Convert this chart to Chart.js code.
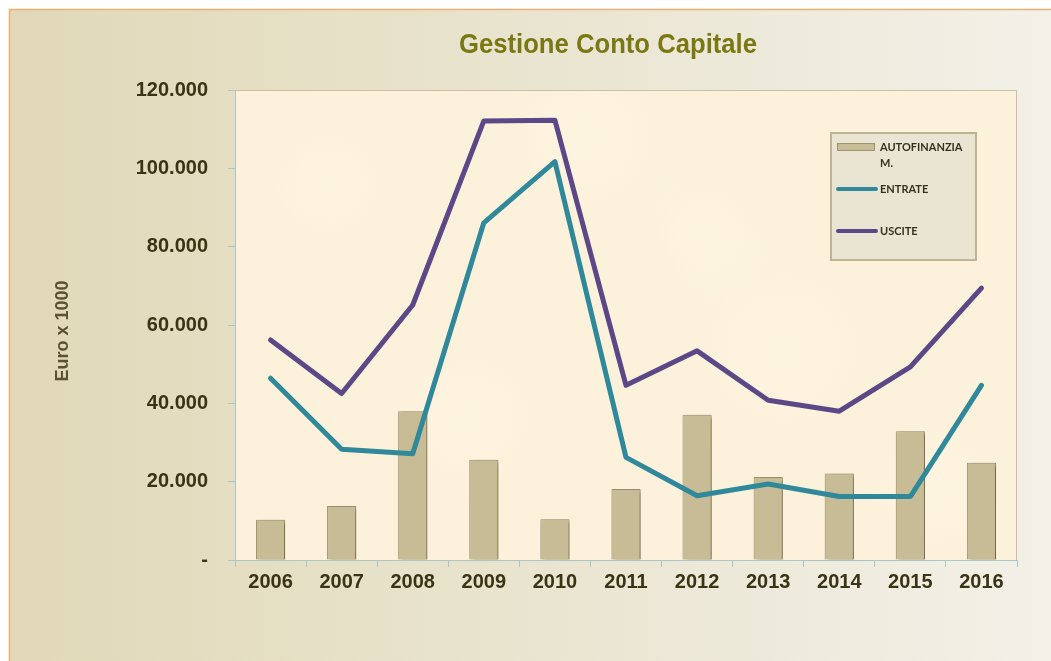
<!DOCTYPE html>
<html>
<head>
<meta charset="utf-8">
<script src="https://cdn.jsdelivr.net/npm/chart.js@4/dist/chart.umd.min.js"></script>
<style>
  html, body { margin: 0; padding: 0; background: #ffffff; }
  #wrap { position: relative; width: 1051px; height: 661px; }
  canvas { display: block; }
</style>
</head>
<body>
<div id="wrap"><canvas id="c" width="1051" height="661"></canvas></div>
<script>
// Anni di riferimento
const years = ['2006', '2007', '2008', '2009', '2010', '2011', '2012', '2013', '2014', '2015', '2016'];

// Valori in migliaia di euro
const autofinanziamento = [10300, 13800, 38000, 25600, 10400, 18100, 37100, 21200, 22100, 32900, 24800];
const entrate = [46400, 28300, 27100, 86100, 101700, 26200, 16400, 19400, 16200, 16200, 44600];
const uscite = [56200, 42500, 65100, 112100, 112300, 44600, 53400, 40800, 38000, 49300, 69400];

// Scala verticale
const yMin = 0;
const yMax = 120000;
const yStep = 20000;

const chartTitle = 'Gestione Conto Capitale';
const yTitle = 'Euro x 1000';

const TICK_COLOR = '#3a3414';

function formatEuro(v) {
  if (v === 0) return '-';
  return String(Math.round(v)).replace(/\B(?=(\d{3})+(?!\d))/g, '.');
}

// Sfondo della pagina, del pannello e dell'area del grafico
const backgroundPlugin = {
  id: 'sfondo',
  beforeDraw(chart) {
    const ctx = chart.ctx;
    const W = chart.width, H = chart.height;
    ctx.save();
    ctx.fillStyle = '#ffffff';
    ctx.fillRect(0, 0, W, H);
    const g = ctx.createLinearGradient(10, 0, W, 0);
    g.addColorStop(0, '#e0d8b8');
    g.addColorStop(0.3, '#e6e0c6');
    g.addColorStop(1, '#f3f0e8');
    ctx.fillStyle = g;
    ctx.fillRect(10, 9, W - 10, H - 9);
    ctx.strokeStyle = '#f0b070';
    ctx.lineWidth = 1.5;
    ctx.beginPath();
    ctx.moveTo(9.5, H);
    ctx.lineTo(9.5, 9.5);
    ctx.lineTo(W, 9.5);
    ctx.stroke();

    const a = chart.chartArea;
    ctx.fillStyle = '#fcf1da';
    ctx.fillRect(a.left, a.top, a.right - a.left, a.bottom - a.top);
    // leggera marezzatura della carta
    const spots = [[0.12, 0.2, 90], [0.45, 0.1, 120], [0.7, 0.55, 140], [0.3, 0.7, 110], [0.9, 0.85, 100], [0.6, 0.3, 80]];
    spots.forEach(([fx, fy, r]) => {
      const x = a.left + fx * (a.right - a.left);
      const y = a.top + fy * (a.bottom - a.top);
      const rg = ctx.createRadialGradient(x, y, 0, x, y, r);
      rg.addColorStop(0, 'rgba(255,249,234,0.35)');
      rg.addColorStop(1, 'rgba(255,249,234,0)');
      ctx.fillStyle = rg;
      ctx.fillRect(a.left, a.top, a.right - a.left, a.bottom - a.top);
    });
    ctx.strokeStyle = '#cbbf9f';
    ctx.lineWidth = 1;
    ctx.beginPath();
    ctx.moveTo(a.left, a.top + 0.5);
    ctx.lineTo(a.right - 0.5, a.top + 0.5);
    ctx.lineTo(a.right - 0.5, a.bottom);
    ctx.stroke();
    ctx.restore();
  }
};

// Titolo e titolo dell'asse verticale
const textPlugin = {
  id: 'testi',
  afterDraw(chart) {
    const ctx = chart.ctx;
    ctx.save();
    ctx.fillStyle = '#7a7812';
    ctx.font = 'bold 27px "Liberation Sans", Arial, sans-serif';
    ctx.textAlign = 'center';
    ctx.textBaseline = 'middle';
    // carattere condensato: stringe il testo in orizzontale
    const w = ctx.measureText(chartTitle).width;
    const sx = Math.min(1, 298 / w);
    ctx.save();
    ctx.translate(608, 46);
    ctx.scale(sx, 1);
    ctx.fillText(chartTitle, 0, 0);
    ctx.restore();

    ctx.translate(63, 331);
    ctx.rotate(-Math.PI / 2);
    ctx.fillStyle = '#5a5230';
    ctx.font = 'bold 18px "Liberation Sans", Arial, sans-serif';
    ctx.fillText(yTitle, 0, 0);
    ctx.restore();
  }
};

// Ombra delle colonne
const shadowPlugin = {
  id: 'ombra',
  beforeDatasetDraw(chart, args) {
    if (chart.data.datasets[args.index].type !== 'bar') return;
    const ctx = chart.ctx;
    ctx.save();
    ctx.shadowColor = 'rgba(60,50,20,0.5)';
    ctx.shadowBlur = 4;
    ctx.shadowOffsetX = 3;
    ctx.shadowOffsetY = 2;
  },
  afterDatasetDraw(chart, args) {
    if (chart.data.datasets[args.index].type !== 'bar') return;
    chart.ctx.restore();
  }
};

// Legenda in riquadro dentro l'area del grafico
const legendPlugin = {
  id: 'legendaRiquadro',
  afterDatasetsDraw(chart) {
    const ctx = chart.ctx;
    const bx = 831, by = 133, bw = 145, bh = 127;
    ctx.save();
    ctx.fillStyle = '#eae4d3';
    ctx.fillRect(bx, by, bw, bh);
    ctx.strokeStyle = '#bdb493';
    ctx.lineWidth = 2;
    ctx.strokeRect(bx, by, bw, bh);

    ctx.font = 'bold 11px Lato, "Liberation Sans", sans-serif';
    ctx.textBaseline = 'middle';
    ctx.textAlign = 'left';
    const rows = [147, 189, 231];
    const textX = 880;
    const maxW = 88;
    chart.data.datasets.forEach((ds, i) => {
      const y = rows[i];
      if (ds.type === 'bar') {
        ctx.fillStyle = ds.backgroundColor;
        ctx.fillRect(837, y - 4, 38, 8);
        ctx.strokeStyle = ds.borderColor;
        ctx.lineWidth = 1;
        ctx.strokeRect(837.5, y - 3.5, 37, 7);
      } else {
        ctx.strokeStyle = ds.borderColor;
        ctx.lineWidth = 4;
        ctx.lineCap = 'round';
        ctx.beginPath();
        ctx.moveTo(838, y);
        ctx.lineTo(876, y);
        ctx.stroke();
      }
      // a capo quando l'etichetta supera la larghezza disponibile
      const lines = [];
      let cur = '';
      for (const ch of ds.label) {
        if (ctx.measureText(cur + ch).width > maxW && cur) {
          lines.push(cur);
          cur = ch;
        } else {
          cur += ch;
        }
      }
      lines.push(cur);
      ctx.fillStyle = '#35331f';
      lines.forEach((t, k) => ctx.fillText(t, textX, y + k * 16));
    });
    ctx.restore();
  }
};

new Chart(document.getElementById('c'), {
  data: {
    labels: years,
    datasets: [
      {
        type: 'bar',
        label: 'AUTOFINANZIAM.',
        data: autofinanziamento,
        backgroundColor: '#c8bc96',
        borderColor: '#9f9470',
        borderWidth: 1,
        barPercentage: 0.41,
        categoryPercentage: 1,
        order: 3
      },
      {
        type: 'line',
        label: 'ENTRATE',
        data: entrate,
        borderColor: '#2f899b',
        backgroundColor: '#2f899b',
        borderWidth: 5,
        pointRadius: 0,
        tension: 0,
        borderJoinStyle: 'round',
        borderCapStyle: 'round',
        order: 2
      },
      {
        type: 'line',
        label: 'USCITE',
        data: uscite,
        borderColor: '#5d4887',
        backgroundColor: '#5d4887',
        borderWidth: 5,
        pointRadius: 0,
        tension: 0,
        borderJoinStyle: 'round',
        borderCapStyle: 'round',
        order: 1
      }
    ]
  },
  options: {
    responsive: false,
    animation: false,
    layout: { padding: { top: 90, right: 34, bottom: 0, left: 0 } },
    plugins: {
      legend: { display: false },
      title: { display: false },
      tooltip: { enabled: false }
    },
    scales: {
      x: {
        offset: true,
        grid: {
          offset: true,
          drawOnChartArea: false,
          drawTicks: true,
          tickLength: 7,
          color: '#a9c6c9'
        },
        border: { color: '#a9c6c9', width: 1 },
        ticks: {
          color: TICK_COLOR,
          padding: 3,
          font: { family: '"Liberation Sans", Arial, sans-serif', size: 20, weight: 'bold' },
          maxRotation: 0
        },
        afterFit(scale) { scale.height = 101; }
      },
      y: {
        min: yMin,
        max: yMax,
        grid: {
          drawOnChartArea: false,
          drawTicks: true,
          tickLength: 7,
          color: '#a9c6c9'
        },
        border: { color: '#a9c6c9', width: 1 },
        ticks: {
          stepSize: yStep,
          color: TICK_COLOR,
          padding: 20,
          font: { family: '"Liberation Sans", Arial, sans-serif', size: 20, weight: 'bold' },
          callback: (v) => formatEuro(v)
        },
        afterFit(scale) { scale.width = 235; }
      }
    }
  },
  plugins: [backgroundPlugin, shadowPlugin, legendPlugin, textPlugin]
});
</script>
</body>
</html>
